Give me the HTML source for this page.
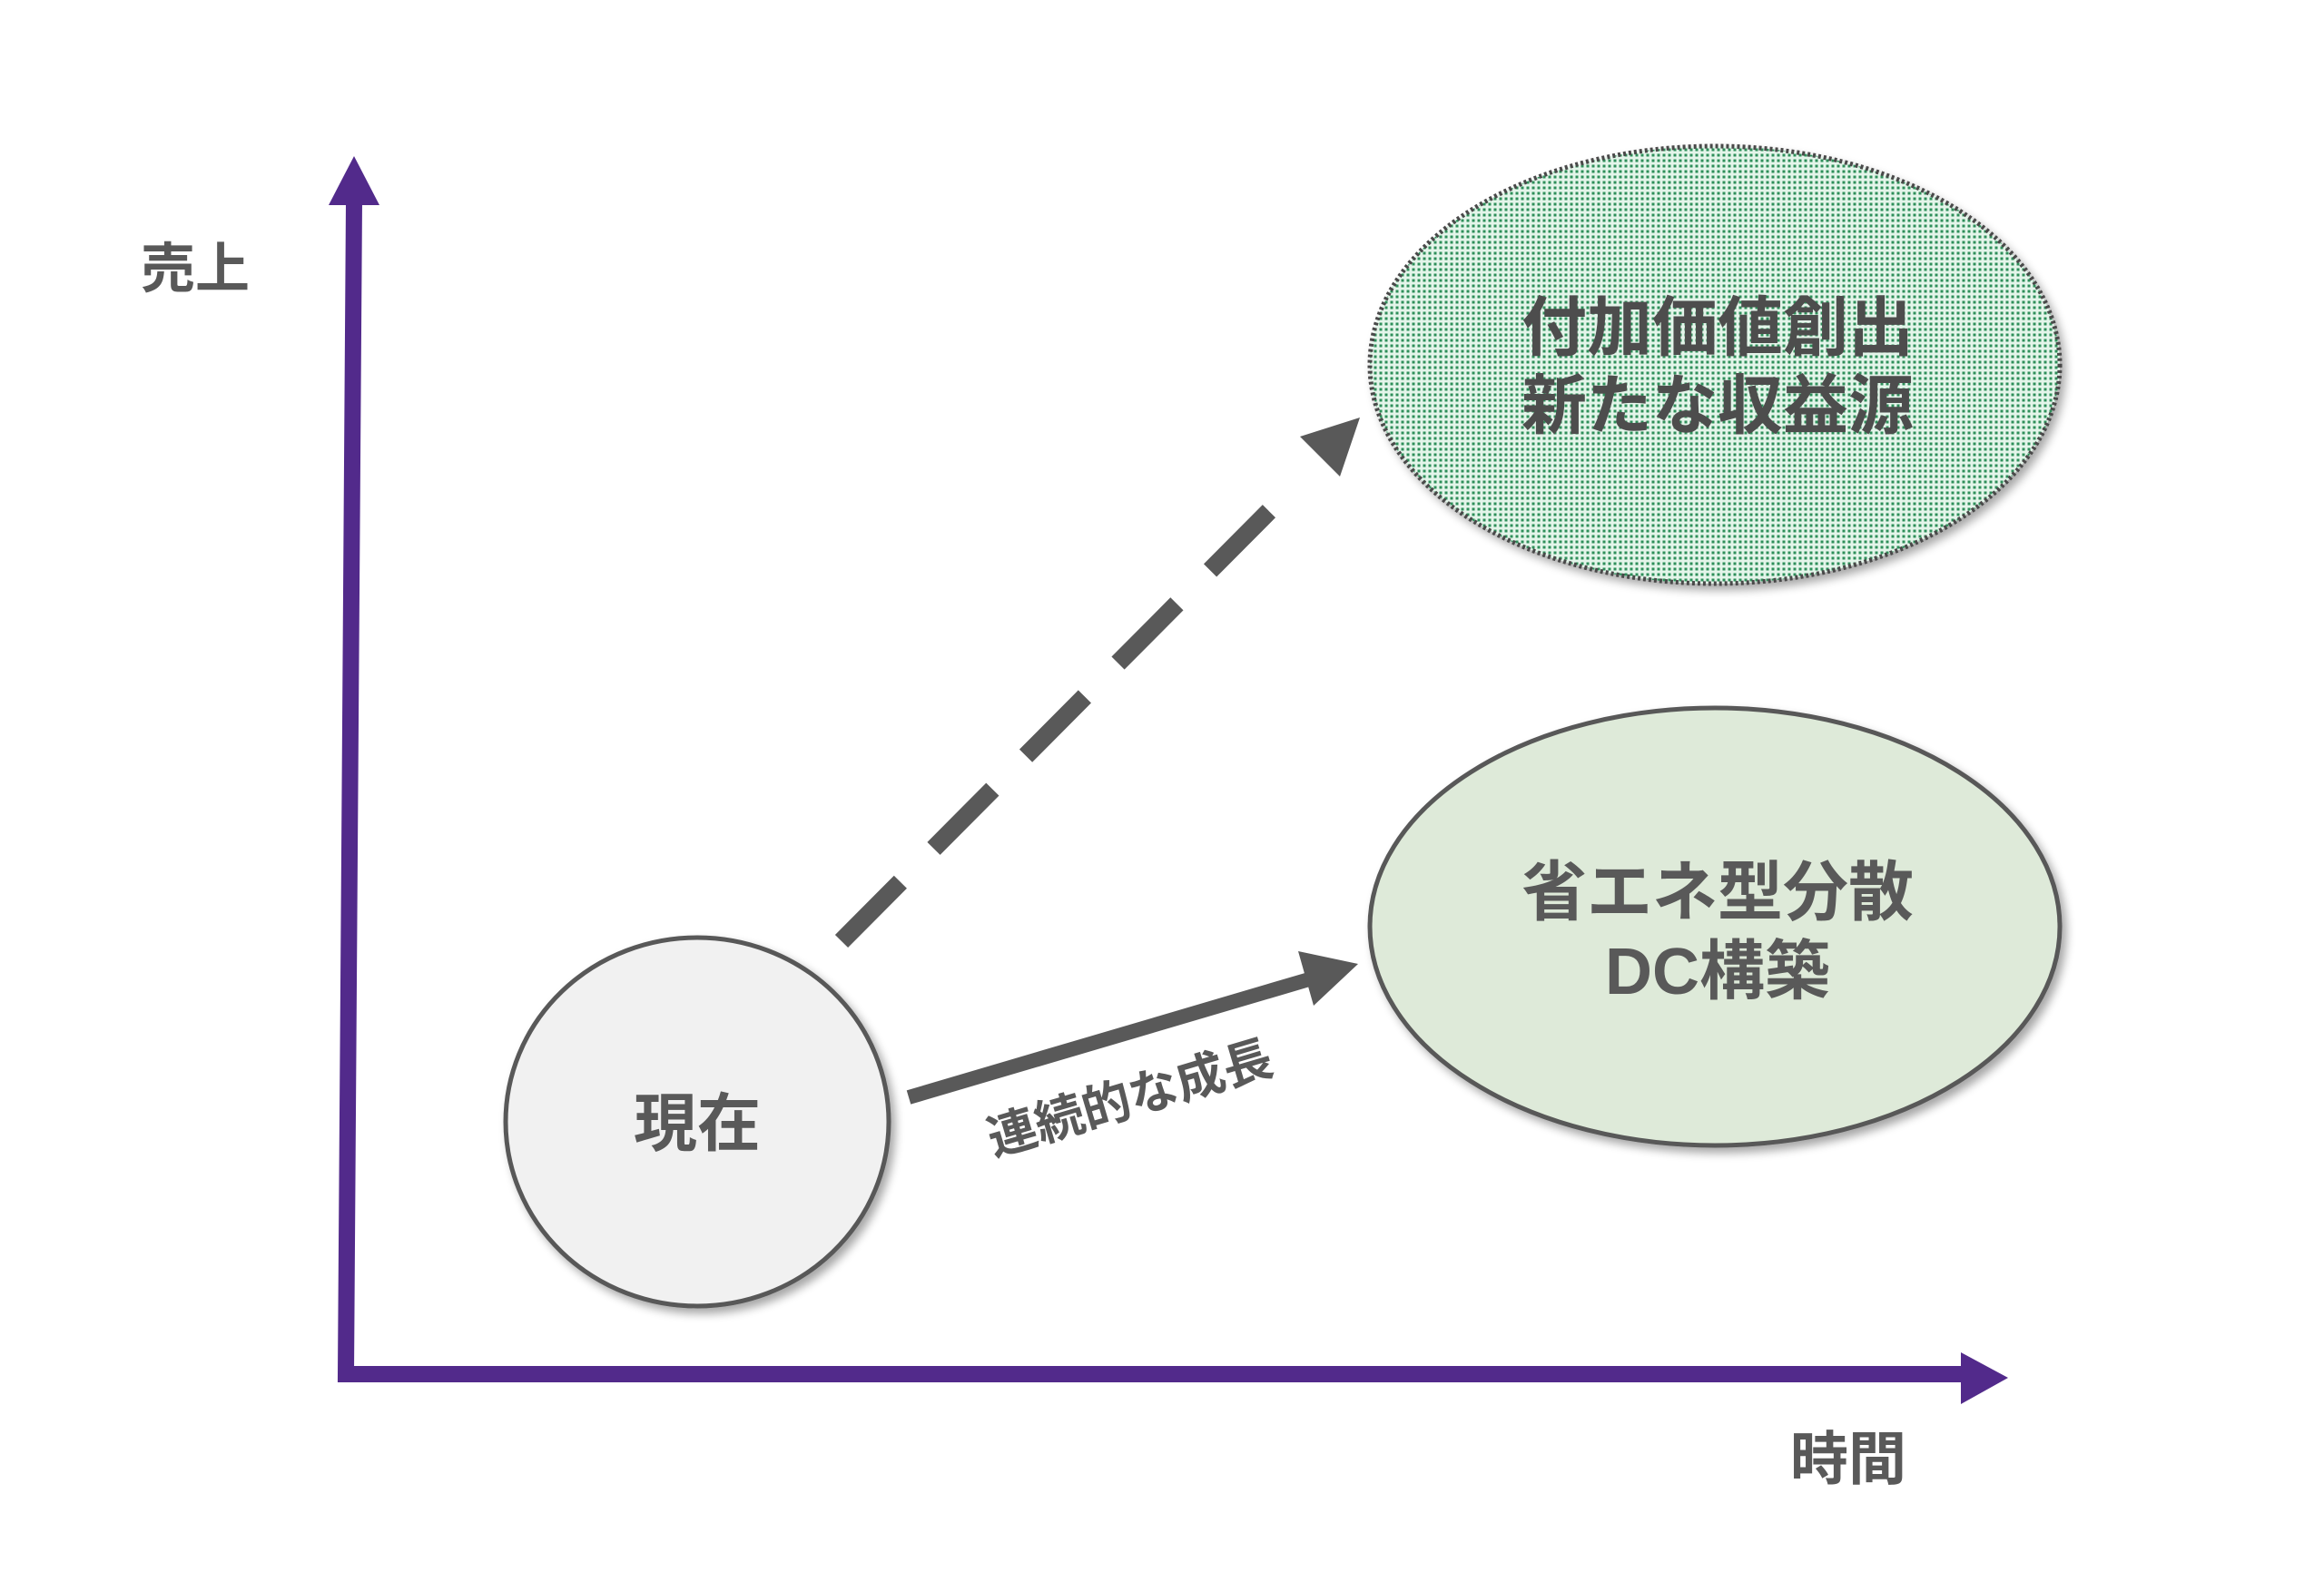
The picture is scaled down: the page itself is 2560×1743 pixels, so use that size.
<!DOCTYPE html>
<html><head><meta charset="utf-8"><style>
html,body{margin:0;padding:0;background:#fff;}
svg{display:block;}
text{font-family:"Liberation Sans","Noto Sans CJK JP",sans-serif;font-weight:bold;fill:#595959;}
</style></head><body>
<svg width="2560" height="1743" viewBox="0 0 2560 1743" xmlns="http://www.w3.org/2000/svg">
<defs>
<pattern id="dots" width="6" height="6" patternUnits="userSpaceOnUse">
<rect width="6" height="6" fill="#e4f5ea"/>
<rect x="1.5" y="1.5" width="3" height="3" fill="#2f8f5a"/>
</pattern>
<filter id="sh" x="-20%" y="-20%" width="150%" height="150%">
<feGaussianBlur in="SourceAlpha" stdDeviation="5"/>
<feOffset dx="5" dy="6"/>
<feComponentTransfer><feFuncA type="linear" slope="0.35"/></feComponentTransfer>
<feMerge><feMergeNode/><feMergeNode in="SourceGraphic"/></feMerge>
</filter>
</defs>

<!-- axes -->
<path d="M390 222 L381 1514 L2165 1514" fill="none" stroke="#522a8b" stroke-width="18"/>
<polygon points="390,172 362,226 418,226" fill="#522a8b"/>
<polygon points="2212,1518 2160,1490 2160,1547" fill="#522a8b"/>

<text x="215" y="317" font-size="60" text-anchor="middle">売上</text>
<text x="2100" y="1630" font-size="64" text-anchor="end">時間</text>

<!-- top ellipse -->
<ellipse cx="1889" cy="402" rx="380" ry="241" fill="url(#dots)" stroke="#4a4a4a" stroke-width="5" stroke-dasharray="3 3" filter="url(#sh)"/>
<text x="1892" y="386" font-size="72" text-anchor="middle" style="fill:#4d4d4d">付加価値創出</text>
<text x="1892" y="472" font-size="72" text-anchor="middle" style="fill:#4d4d4d">新たな収益源</text>

<!-- bottom ellipse -->
<ellipse cx="1889" cy="1021" rx="380" ry="241" fill="#deead9" stroke="#595959" stroke-width="5" filter="url(#sh)"/>
<text x="1892" y="1008" font-size="72" text-anchor="middle">省エネ型分散</text>
<text x="1892" y="1095" font-size="72" text-anchor="middle">DC構築</text>

<!-- current circle -->
<ellipse cx="768" cy="1236" rx="211" ry="203" fill="#f1f1f1" stroke="#595959" stroke-width="5" filter="url(#sh)"/>
<text x="768" y="1262" font-size="70" text-anchor="middle">現在</text>

<!-- solid arrow -->
<line x1="1001" y1="1209" x2="1442" y2="1079" stroke="#595959" stroke-width="16"/>
<polygon points="1496,1062 1430,1048 1447,1108" fill="#595959"/>
<text x="0" y="0" font-size="54" text-anchor="middle" transform="translate(1250,1228) rotate(-16.5)">連続的な成長</text>

<!-- dashed arrow -->
<line x1="927" y1="1037" x2="1420" y2="541" stroke="#595959" stroke-width="20" stroke-dasharray="92 52"/>
<polygon points="1498,460 1432,481 1476,525" fill="#595959"/>
</svg>
</body></html>
